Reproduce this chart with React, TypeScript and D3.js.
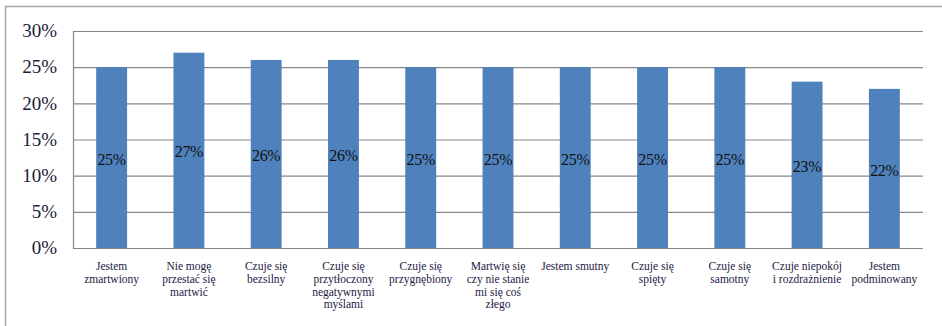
import React from "react";
import * as d3 from "d3";

const categories = [
  ["Jestem", "zmartwiony"],
  ["Nie mogę", "przestać się", "martwić"],
  ["Czuje się", "bezsilny"],
  ["Czuje się", "przytłoczony", "negatywnymi", "myślami"],
  ["Czuje się", "przygnębiony"],
  ["Martwię się", "czy nie stanie", "mi się coś", "złego"],
  ["Jestem smutny"],
  ["Czuje się", "spięty"],
  ["Czuje się", "samotny"],
  ["Czuje niepokój", "i rozdrażnienie"],
  ["Jestem", "podminowany"],
];
const values = [25, 27, 26, 26, 25, 25, 25, 25, 25, 23, 22];
const yTicks = [0, 5, 10, 15, 20, 25, 30];

const App = () => {
  const ref = React.useRef<SVGSVGElement>(null);

  React.useEffect(() => {
    const width = 942;
    const height = 326;
    const margin = { left: 73, right: 19, top: 31, bottom: 78 };
    const font = "Liberation Serif, Times New Roman, serif";

    const svg = d3.select(ref.current);
    svg.selectAll("*").remove();

    // outer frame
    svg.append("rect")
      .attr("x", 5.5).attr("y", 6.5)
      .attr("width", width).attr("height", height)
      .attr("fill", "none")
      .attr("stroke", "#a6a6a6")
      .attr("stroke-width", 1.5);

    const x = d3.scaleBand<number>()
      .domain(d3.range(values.length))
      .range([margin.left, width - margin.right])
      .paddingInner(0.6)
      .paddingOuter(0.3);

    const y = d3.scaleLinear()
      .domain([0, 30])
      .range([height - margin.bottom, margin.top]);

    // gridlines
    svg.append("g")
      .selectAll("line")
      .data(yTicks)
      .join("line")
      .attr("x1", margin.left)
      .attr("x2", width - margin.right)
      .attr("y1", d => y(d) + 0.5)
      .attr("y2", d => y(d) + 0.5)
      .attr("stroke", "#878787")
      .attr("stroke-width", 1.2);

    // left axis line
    svg.append("line")
      .attr("x1", margin.left + 0.5).attr("x2", margin.left + 0.5)
      .attr("y1", y(30)).attr("y2", y(0) + 1)
      .attr("stroke", "#878787")
      .attr("stroke-width", 1.2);

    // y tick labels
    svg.append("g")
      .selectAll("text")
      .data(yTicks)
      .join("text")
      .attr("x", 57)
      .attr("y", d => y(d))
      .attr("dy", "0.33em")
      .attr("text-anchor", "end")
      .style("font-family", font)
      .style("font-size", "19px")
      .attr("fill", "#1c1c38")
      .text(d => `${d}%`);

    // bars
    svg.append("g")
      .selectAll("rect")
      .data(values)
      .join("rect")
      .attr("x", (d, i) => x(i)!)
      .attr("y", d => y(d))
      .attr("width", x.bandwidth())
      .attr("height", d => y(0) - y(d))
      .attr("fill", "#4f81bd");

    // value labels
    svg.append("g")
      .selectAll("text")
      .data(values)
      .join("text")
      .attr("x", (d, i) => x(i)! + x.bandwidth() / 2)
      .attr("y", d => (y(d) + y(0)) / 2 + 1.5)
      .attr("dy", "0.35em")
      .attr("text-anchor", "middle")
      .style("font-family", font)
      .style("font-size", "16px")
      .attr("letter-spacing", -0.3)
      .attr("fill", "#111")
      .text(d => `${d}%`);

    // category labels
    svg.append("g")
      .selectAll("text")
      .data(categories)
      .join("text")
      .attr("x", (d, i) => x(i)! + x.bandwidth() / 2)
      .attr("y", y(0) + 22)
      .attr("text-anchor", "middle")
      .style("font-family", font)
      .style("font-size", "11.5px")
      .attr("fill", "#24203f")
      .each(function (d) {
        const t = d3.select(this);
        const xx = t.attr("x");
        d.forEach((line, j) => {
          t.append("tspan")
            .attr("x", xx)
            .attr("dy", j === 0 ? 0 : 12.8)
            .text(line);
        });
      });
  }, []);

  return (
    <svg
      ref={ref}
      width={942}
      height={326}
      style={{ position: "absolute", left: 0, top: 0, background: "#fff" }}
    />
  );
};

export default App;
